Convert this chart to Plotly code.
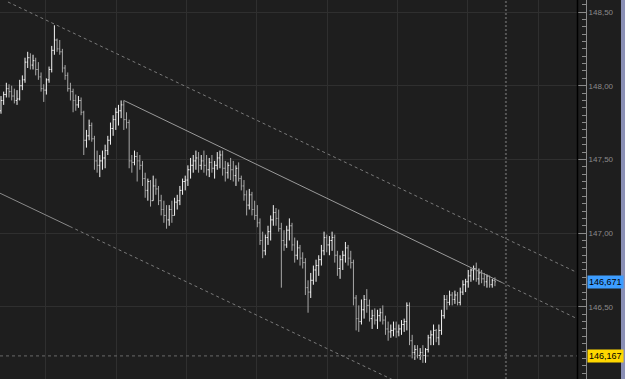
import plotly.graph_objects as go

opens = [147.83,147.90,147.94,147.98,147.96,147.93,147.90,147.91,148.00,148.04,
148.16,148.19,148.14,148.17,148.11,148.06,147.98,147.97,148.04,148.11,
148.24,148.31,148.25,148.23,148.12,148.07,147.98,147.96,147.90,147.87,
147.90,147.82,147.63,147.66,147.73,147.64,147.49,147.46,147.49,147.51,
147.56,147.63,147.71,147.77,147.82,147.83,147.87,147.77,147.75,147.49,
147.48,147.52,147.49,147.46,147.37,147.29,147.35,147.22,147.32,147.30,
147.22,147.16,147.12,147.09,147.16,147.12,147.21,147.22,147.29,147.35,
147.36,147.43,147.46,147.49,147.51,147.46,147.49,147.46,147.43,147.48,
147.44,147.46,147.51,147.53,147.44,147.41,147.46,147.43,147.39,147.44,
147.37,147.32,147.26,147.19,147.26,147.16,147.12,147.07,146.95,146.88,
146.97,147.01,147.09,147.14,147.10,147.03,146.95,146.92,147.02,147.05,
146.92,146.85,146.90,146.83,146.80,146.63,146.60,146.68,146.75,146.78,
146.82,146.88,146.97,146.92,146.95,146.97,146.85,146.76,146.82,146.85,
146.90,146.83,146.80,146.56,146.42,146.40,146.48,146.55,146.51,146.42,
146.44,146.41,146.44,146.46,146.41,146.35,146.33,146.34,146.35,146.33,
146.35,146.38,146.40,146.51,146.27,146.19,146.21,146.17,146.19,146.17,
146.21,146.29,146.31,146.34,146.29,146.34,146.44,146.55,146.53,146.58,
146.55,146.58,146.53,146.60,146.65,146.67,146.71,146.75,146.76,146.69,
146.73,146.69,146.67,146.71,146.65,146.68]

highs = [147.93,147.96,148.02,148.01,148.00,147.98,147.97,148.04,148.07,148.19,
148.23,148.22,148.21,148.19,148.16,148.09,148.01,148.05,148.13,148.27,
148.41,148.32,148.31,148.25,148.14,148.09,148.02,147.98,147.94,147.93,
147.92,147.83,147.70,147.77,147.75,147.66,147.56,147.53,147.56,147.60,
147.66,147.75,147.80,147.85,147.87,147.90,147.90,147.82,147.77,147.53,
147.56,147.55,147.53,147.49,147.41,147.37,147.36,147.39,147.37,147.32,
147.26,147.22,147.19,147.19,147.22,147.24,147.26,147.32,147.37,147.39,
147.46,147.51,147.53,147.56,147.55,147.53,147.56,147.53,147.51,147.53,
147.49,147.55,147.56,147.56,147.49,147.48,147.51,147.49,147.46,147.48,
147.39,147.36,147.29,147.30,147.28,147.22,147.19,147.10,147.01,146.99,
147.05,147.12,147.19,147.17,147.16,147.07,147.02,147.05,147.10,147.07,
146.97,146.95,146.92,146.87,146.83,146.68,146.73,146.78,146.82,146.85,
146.92,147.01,146.99,146.98,147.01,146.99,146.88,146.85,146.88,146.94,
146.92,146.88,146.82,146.58,146.51,146.55,146.58,146.62,146.55,146.48,
146.49,146.48,146.49,146.51,146.44,146.40,146.38,146.40,146.40,146.38,
146.41,146.42,146.53,146.53,146.31,146.24,146.24,146.22,146.24,146.22,
146.31,146.34,146.38,146.35,146.38,146.48,146.58,146.58,146.61,146.60,
146.61,146.60,146.63,146.68,146.69,146.75,146.76,146.78,146.80,146.76,
146.75,146.73,146.72,146.71,146.69,146.70]

lows = [147.81,147.87,147.92,147.92,147.90,147.88,147.87,147.90,147.97,148.02,
148.12,148.11,148.11,148.07,148.04,147.96,147.89,147.94,148.02,148.09,
148.21,148.23,148.21,148.09,148.04,147.96,147.90,147.82,147.83,147.85,
147.80,147.53,147.58,147.63,147.62,147.43,147.41,147.38,147.43,147.44,
147.53,147.60,147.66,147.70,147.73,147.78,147.70,147.71,147.44,147.41,
147.46,147.35,147.43,147.32,147.24,147.22,147.18,147.22,147.26,147.19,
147.12,147.07,147.03,147.05,147.07,147.12,147.16,147.19,147.26,147.29,
147.32,147.37,147.41,147.43,147.41,147.43,147.41,147.39,147.38,147.41,
147.37,147.43,147.44,147.39,147.35,147.37,147.36,147.35,147.32,147.35,
147.29,147.22,147.12,147.16,147.12,147.09,147.04,146.92,146.83,146.85,
146.92,146.95,147.05,147.05,147.01,146.63,146.88,146.90,146.95,146.88,
146.80,146.82,146.78,146.76,146.58,146.46,146.56,146.65,146.67,146.71,
146.78,146.85,146.87,146.85,146.88,146.80,146.71,146.69,146.75,146.80,
146.78,146.76,146.51,146.34,146.33,146.38,146.42,146.46,146.40,146.35,
146.38,146.35,146.40,146.38,146.31,146.27,146.29,146.30,146.29,146.30,
146.31,146.33,146.34,146.24,146.15,146.14,146.15,146.14,146.12,146.12,
146.19,146.24,146.24,146.26,146.24,146.31,146.42,146.48,146.51,146.51,
146.52,146.51,146.51,146.58,146.60,146.63,146.67,146.68,146.67,146.65,
146.66,146.64,146.63,146.63,146.63,146.64]

closes = [147.90,147.94,147.98,147.96,147.93,147.90,147.91,148.00,148.04,148.16,
148.19,148.14,148.17,148.11,148.06,147.98,147.97,148.04,148.11,148.24,
148.31,148.25,148.23,148.12,148.07,147.98,147.96,147.90,147.87,147.90,
147.82,147.63,147.66,147.73,147.64,147.49,147.46,147.49,147.51,147.56,
147.63,147.71,147.77,147.82,147.83,147.87,147.77,147.75,147.49,147.48,
147.52,147.49,147.46,147.37,147.29,147.35,147.22,147.32,147.30,147.22,
147.16,147.12,147.09,147.16,147.12,147.21,147.22,147.29,147.35,147.36,
147.43,147.46,147.49,147.51,147.46,147.49,147.46,147.43,147.48,147.44,
147.46,147.51,147.53,147.44,147.41,147.46,147.43,147.39,147.44,147.37,
147.32,147.26,147.19,147.26,147.16,147.12,147.07,146.95,146.88,146.97,
147.01,147.09,147.14,147.10,147.03,146.95,146.92,147.02,147.05,146.92,
146.85,146.90,146.83,146.80,146.63,146.60,146.68,146.75,146.78,146.82,
146.88,146.97,146.92,146.95,146.97,146.85,146.76,146.82,146.85,146.90,
146.83,146.80,146.56,146.42,146.40,146.48,146.55,146.51,146.42,146.44,
146.41,146.44,146.46,146.41,146.35,146.33,146.34,146.35,146.33,146.35,
146.38,146.40,146.51,146.27,146.19,146.21,146.17,146.19,146.17,146.21,
146.29,146.31,146.34,146.29,146.34,146.44,146.55,146.53,146.58,146.55,
146.58,146.53,146.60,146.65,146.67,146.71,146.75,146.76,146.69,146.73,
146.69,146.67,146.71,146.65,146.68,146.67]

bar_index = list(range(len(closes)))

# channel lines (bar index, price)
upper_x = [2.6, 216.1]
upper_y = [148.568, 146.73]
mid_solid_x = [46, 187.6]
mid_solid_y = [147.90, 146.665]
mid_ext_x = [187.6, 216.1]
mid_ext_y = [146.665, 146.417]
low_solid_x = [-0.4, 25.8]
low_solid_y = [147.271, 147.045]
low_ext_x = [25.8, 150]
low_ext_y = [147.045, 145.977]

current_price = 146.671
level_price = 146.167
cursor_index = 189.1

y_ticks = [146.5, 147.0, 147.5, 148.0, 148.5]

BG = "#1e1e1e"
GRID = "#2f2f2f"
AXIS_C = "#8a8a8a"
FONT = "Liberation Sans"

fig = go.Figure()

fig.add_trace(go.Ohlc(
    x=bar_index, open=opens, high=highs, low=lows, close=closes,
    increasing=dict(line=dict(color="#f4f4f4", width=1)),
    decreasing=dict(line=dict(color="#a8a8a8", width=1)),
    tickwidth=0.4, showlegend=False, hoverinfo="skip"))

def add_line(xs, ys, color, dash):
    fig.add_trace(go.Scatter(x=xs, y=ys, mode="lines",
                             line=dict(color=color, width=1, dash=dash),
                             showlegend=False, hoverinfo="skip"))

add_line(upper_x, upper_y, "#7a7a7a", "3px,3px")
add_line(mid_solid_x, mid_solid_y, "#9a9a9a", "solid")
add_line(mid_ext_x, mid_ext_y, "#7a7a7a", "3px,3px")
add_line(low_solid_x, low_solid_y, "#8a8a8a", "solid")
add_line(low_ext_x, low_ext_y, "#7a7a7a", "3px,3px")

W, H = 625, 379
axis_px = 586
plot_right_px = 577
dom_right = plot_right_px / axis_px

fig.update_layout(
    width=W, height=H,
    margin=dict(l=0, r=W - axis_px, t=0, b=0, pad=0),
    paper_bgcolor=BG, plot_bgcolor=BG,
    separators=",.",
    font=dict(family=FONT, size=8, color=AXIS_C),
    xaxis=dict(domain=[0, dom_right], range=[-0.375, 215.73],
               rangeslider=dict(visible=False), showticklabels=False,
               showgrid=True, gridcolor=GRID, gridwidth=1,
               tick0=16.85, dtick=26.33, zeroline=False, showline=False,
               fixedrange=True),
    yaxis=dict(range=[146.0104, 148.5815], side="right", anchor="free",
               position=1.0, tickvals=y_ticks, tickformat=".2f",
               showgrid=True, gridcolor=GRID, gridwidth=1,
               ticks="inside", ticklen=8, tickcolor=AXIS_C, tickwidth=1,
               minor=dict(dtick=0.05, tick0=146.0, ticks="inside",
                          ticklen=4, tickcolor=AXIS_C, showgrid=False),
               showline=True, linecolor=AXIS_C, linewidth=1,
               zeroline=False, tickfont=dict(family=FONT, size=8, color=AXIS_C),
               fixedrange=True),
)

shapes = []
shapes.append(dict(type="line", xref="paper", yref="y", x0=0, x1=dom_right,
                   y0=level_price, y1=level_price,
                   line=dict(color="#6a6a6a", width=1, dash="3px,3px")))
shapes.append(dict(type="line", xref="x", yref="paper", x0=cursor_index, x1=cursor_index,
                   y0=0, y1=1, line=dict(color="#555555", width=2, dash="2px,2px")))
shapes.append(dict(type="line", xref="paper", yref="paper", x0=dom_right + 0.5 / axis_px,
                   x1=dom_right + 0.5 / axis_px, y0=0, y1=1,
                   line=dict(color="#000000", width=1.5)))
shapes.append(dict(type="rect", xref="paper", yref="paper", x0=621 / axis_px, x1=626 / axis_px,
                   y0=-0.01, y1=1.01, fillcolor="#8a8fb5", line=dict(width=0)))
fig.update_layout(shapes=shapes)

def price_box(price, bg):
    fig.add_annotation(x=1.0, xref="paper", y=price, yref="y",
                       text=f"{price:.3f}".replace(".", ","),
                       showarrow=False, xanchor="left", yanchor="middle",
                       bgcolor=bg, font=dict(family=FONT, size=9, color="#000000"),
                       borderpad=1, xshift=1)

price_box(current_price, "#3d9dff")
price_box(level_price, "#ffd700")

fig.write_html("out.html")
